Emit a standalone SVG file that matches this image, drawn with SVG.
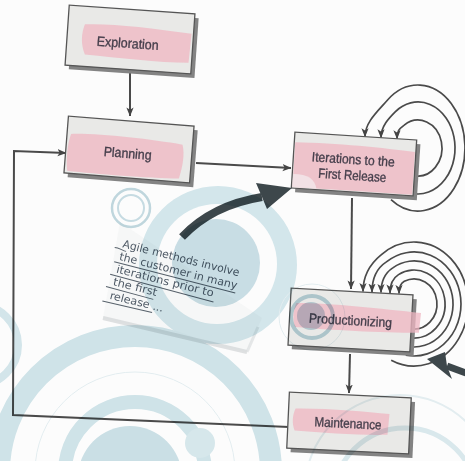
<svg xmlns="http://www.w3.org/2000/svg" width="465" height="461" viewBox="0 0 465 461">
  <defs>
    <style>
      .box { fill: #e9e9e7; stroke: #555; stroke-width: 1.3; }
      .shadow { fill: #838383; }
      .hl { fill: #efb5c2; opacity: 0.75; }
      .label { font-family: "Liberation Sans", Arial, sans-serif; font-size: 13.5px; fill: #463f4c; stroke: #463f4c; stroke-width: 0.35; text-anchor: middle; }
      .flow { fill: none; stroke: #4a4a4a; stroke-width: 2; }
      .loop { fill: none; stroke: #4a4a4a; stroke-width: 1.7; }
      .hand { font-family: "DejaVu Sans", "Liberation Sans", sans-serif; font-size: 11px; fill: #4f5a66; }
      .uline { fill: none; stroke: #56606a; stroke-width: 1; }
      .deco { mix-blend-mode: multiply; }
    </style>
    <marker id="ah" viewBox="0 0 10 10" refX="9.5" refY="5" markerWidth="9" markerHeight="9" markerUnits="userSpaceOnUse" orient="auto">
      <path d="M0,1 L10,5 L0,9 L2.5,5 z" fill="#444"/>
    </marker>
  </defs>

  <rect width="465" height="461" fill="#fcfcfc"/>

  <!-- note paper -->
  <g id="note-paper">
    <polygon points="103,318 247,352 262,318 120,222" fill="#f6f7f7"/>
    <path d="M103,318 L247,352" stroke="#d6d8d9" stroke-width="4" fill="none" opacity="0.8"/>
    <path d="M247,352 L258,327" stroke="#dcdedf" stroke-width="3" fill="none" opacity="0.7"/>
  </g>

  <!-- self loops (drawn under the boxes) -->
  <g id="loops">
    <path class="loop" d="M413.8,175.6 A24,28 0 1 0 404.2,125.1 C399,129 397,131 397,138.8" marker-end="url(#ah)"/>
    <path class="loop" d="M411.6,193.3 A37,46 0 1 0 395.2,111.8 C389,118 381,126 381,137.8" marker-end="url(#ah)"/>
    <path class="loop" d="M391,199.6 A47,63 0 1 0 387.8,99.7 C378,111 365,122 365,136.8" marker-end="url(#ah)"/>

    <path class="loop" d="M410,328.6 A23,25 0 1 0 404.3,281.3 C401,283 399,286 399,293.5" marker-end="url(#ah)"/>
    <path class="loop" d="M408.6,337.5 A31,34 0 1 0 398.5,274.6 C393,278 390,284 390,293" marker-end="url(#ah)"/>
    <path class="loop" d="M407.2,346.3 A39,43 0 1 0 392.8,267.9 C385,273 381,281 381,292.6" marker-end="url(#ah)"/>
    <path class="loop" d="M405.8,355.2 A47,52 0 1 0 386.4,261.9 C377,268 372,279 372,292.1" marker-end="url(#ah)"/>
    <path class="loop" d="M391.2,360.2 A54,62 0 1 0 380.8,255.1 C370,264 363,277 363,291.6" marker-end="url(#ah)"/>
  </g>

  <!-- connectors -->
  <g id="connectors">
    <path class="flow" d="M130,73 L130,116" marker-end="url(#ah)"/>
    <path class="flow" d="M196,163 L291,168" marker-end="url(#ah)"/>
    <path class="flow" d="M352,198 L351,289" marker-end="url(#ah)"/>
    <path class="flow" d="M350,354 L349,393" marker-end="url(#ah)"/>
    <path class="flow" d="M289,427 L13,415 L14,151 L66,153" marker-end="url(#ah)"/>
  </g>

  <!-- process boxes -->
  <g id="exploration" transform="translate(130,39.5) rotate(4)">
    <rect class="shadow" x="-59" y="-26" width="126" height="60"/>
    <rect class="box" x="-63" y="-30" width="126" height="60"/>
    <path class="hl" d="M-46,-12 C-20,-15 20,-13 61,-10 L60,19 C30,21 -10,19 -44,18 C-49,8 -49,-3 -46,-12 z"/>
    <text class="label" x="-2" y="8.5" textLength="62" lengthAdjust="spacingAndGlyphs">Exploration</text>
  </g>

  <g id="planning" transform="translate(129,149.5) rotate(4.5)">
    <rect class="shadow" x="-59" y="-24.5" width="126" height="57"/>
    <rect class="box" x="-63" y="-28.5" width="126" height="57"/>
    <path class="hl" d="M-59,-11 C-30,-14 20,-12 53,-9 C56,0 55,12 52,25 C20,27 -30,27 -60,26 C-62,14 -62,0 -59,-11 z"/>
    <text class="label" x="-1" y="8.5" textLength="48" lengthAdjust="spacingAndGlyphs">Planning</text>
  </g>

  <g id="iterations" transform="translate(354,164) rotate(3.7)">
    <rect class="shadow" x="-57" y="-24" width="122" height="56"/>
    <rect class="box" x="-61" y="-28" width="122" height="56"/>
    <path class="hl" d="M-60,-18 C-20,-20 30,-18 60,-16 L60,27 C20,27 -20,27 -60,27 z"/>
    <path d="M-60,14 C-45,13 -38,18 -36,27 L-60,27 z" fill="#f3eef0" opacity="0.7"/>
    <text class="label" x="-1" y="0" textLength="83" lengthAdjust="spacingAndGlyphs">Iterations to the</text>
    <text class="label" x="-1" y="16" textLength="68" lengthAdjust="spacingAndGlyphs">First Release</text>
  </g>

  <g id="productionizing" transform="translate(350.5,320) rotate(3.2)">
    <rect class="shadow" x="-57" y="-24.5" width="122" height="57"/>
    <rect class="box" x="-61" y="-28.5" width="122" height="57"/>
    <path class="hl" d="M-55,-14 C-20,-16 30,-13 70,-11 L69,9 C30,11 -20,11 -55,10 C-58,2 -58,-6 -55,-14 z"/>
    <text class="label" x="0" y="5" textLength="83" lengthAdjust="spacingAndGlyphs">Productionizing</text>
  </g>

  <g id="maintenance" transform="translate(349,423) rotate(2.7)">
    <rect class="shadow" x="-57" y="-24" width="122" height="56"/>
    <rect class="box" x="-61" y="-28" width="122" height="56"/>
    <path class="hl" d="M-54,-12 C-20,-14 15,-12 40,-11 L39,10 C10,12 -25,11 -54,10 C-57,3 -57,-5 -54,-12 z"/>
    <text class="label" x="-1" y="5" textLength="67" lengthAdjust="spacingAndGlyphs">Maintenance</text>
  </g>

  <!-- bold pointer arrows -->
  <g id="pointers" fill="#3d474b">
    <path d="M182,237 C200,218 225,203 262,197" stroke="#3d474b" stroke-width="8" fill="none"/>
    <polygon points="292,188 256,183 262,197 267,209"/>
    <path d="M447,366 L466,373" stroke="#3d474b" stroke-width="7" fill="none"/>
    <polygon points="427,359 445,352 447,366 452,379"/>
  </g>

  <!-- handwritten note -->
  <g id="note" transform="translate(121,247) rotate(14)">
    <text class="hand" x="1" y="0" textLength="120" lengthAdjust="spacingAndGlyphs">Agile methods involve</text>
    <text class="hand" x="1" y="13" textLength="121" lengthAdjust="spacingAndGlyphs">the customer in many</text>
    <text class="hand" x="1" y="26" textLength="100" lengthAdjust="spacingAndGlyphs">iterations prior to</text>
    <text class="hand" x="1" y="39" textLength="45" lengthAdjust="spacingAndGlyphs">the first</text>
    <text class="hand" x="1" y="53" textLength="55" lengthAdjust="spacingAndGlyphs">release ...</text>
    <path class="uline" d="M-6,2 C-2,1 2,3 6,3"/>
    <path class="uline" d="M-3,16 L122,17"/>
    <path class="uline" d="M-4,29 L103,31"/>
    <path class="uline" d="M-5,42 L44,43"/>
    <path class="uline" d="M-5,57 L46,56"/>
  </g>

  <!-- decorative circles -->
  <g id="decor" class="deco">
    <circle cx="218" cy="265" r="79" fill="#d6e9ee"/>
    <circle cx="217" cy="264" r="60" fill="#ffffff"/>
    <circle cx="216" cy="263" r="44" fill="#cbe0e7"/>
    <circle cx="131" cy="208" r="19" fill="none" stroke="#c2d9e0" stroke-width="2.5"/>
    <circle cx="131" cy="208" r="13" fill="none" stroke="#c9dee5" stroke-width="2"/>
    <circle cx="312" cy="317" r="33" fill="none" stroke="#e6f0f3" stroke-width="1"/>
    <circle cx="312" cy="317" r="21" fill="none" stroke="#bcd7df" stroke-width="4"/>
    <circle cx="311" cy="316" r="14" fill="#c3dae3"/>
    <circle cx="135" cy="472" r="136" fill="none" stroke="#d2e6eb" stroke-width="22"/>
    <circle cx="135" cy="472" r="100" fill="none" stroke="#e6f0f3" stroke-width="1"/>
    <circle cx="135" cy="472" r="70" fill="none" stroke="#d2e6eb" stroke-width="14"/>
    <circle cx="130" cy="478" r="52" fill="#cde2e8"/>
    <circle cx="200" cy="443" r="15" fill="#d9eaee"/>
    <circle cx="-22" cy="345" r="40" fill="none" stroke="#d6e8ed" stroke-width="8"/>
    <circle cx="400" cy="490" r="95" fill="none" stroke="#e6f0f3" stroke-width="2"/>
    <circle cx="405" cy="500" r="72" fill="none" stroke="#dcebef" stroke-width="5"/>
  </g>
</svg>
